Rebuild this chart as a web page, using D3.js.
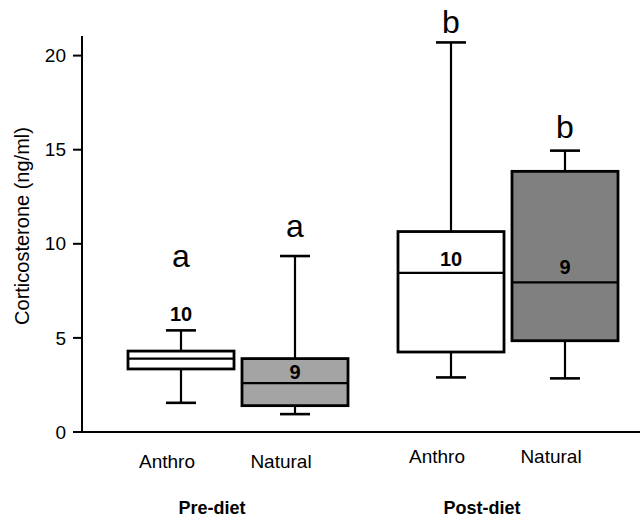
<!DOCTYPE html>
<html>
<head>
<meta charset="utf-8">
<script src="https://cdn.jsdelivr.net/npm/d3@7"></script>
<style>
  body { margin: 0; background: #fff; }
  text { font-family: "Liberation Sans", Arial, sans-serif; }
</style>
</head>
<body>
<div id="chart"></div>
<script>
const groups = ['Pre-diet', 'Post-diet']
const habitats = ['Anthro', 'Natural']
// one entry per box: Pre Anthro, Pre Natural, Post Anthro, Post Natural
const boxGroup = ['Pre-diet', 'Pre-diet', 'Post-diet', 'Post-diet']
const boxHabitat = ['Anthro', 'Natural', 'Anthro', 'Natural']
const whiskerLow = [1.55, 0.95, 2.9, 2.85]
const q1 = [3.35, 1.4, 4.25, 4.85]
const median = [3.9, 2.6, 8.45, 7.95]
const q3 = [4.3, 3.9, 10.65, 13.85]
const whiskerHigh = [5.4, 9.35, 20.7, 14.95]
const sampleSize = [10, 9, 10, 9]
const sampleSizeAt = [5.9, 2.82, 8.82, 8.4]
const letters = ['a', 'a', 'b', 'b']
const lettersAt = [8.77, 10.36, 21.2, 15.6]
const yTicks = [0, 5, 10, 15, 20]

const width = 640
const height = 519
const boxFill = ['#ffffff', '#a4a4a4', '#ffffff', '#808080']

const boxes = boxGroup.map((g, i) => ({
  group: g,
  habitat: boxHabitat[i],
  lo: whiskerLow[i],
  q1: q1[i],
  med: median[i],
  q3: q3[i],
  hi: whiskerHigh[i],
  n: sampleSize[i],
  nAt: sampleSizeAt[i],
  letter: letters[i],
  letterAt: lettersAt[i],
  fill: boxFill[i]
}))

const y = d3.scaleLinear()
  .domain([0, 20])
  .range([432, 55.6])

const xGroup = d3.scalePoint()
  .domain(groups)
  .range([238, 508])

const xInner = d3.scaleBand()
  .domain(habitats)
  .range([-114, 114])
  .paddingInner(0.07)
  .paddingOuter(0.035)

const cx = d => xGroup(d.group) + xInner(d.habitat) + xInner.bandwidth() / 2
const capHalf = 15

const svg = d3.select('#chart').append('svg')
  .attr('width', width)
  .attr('height', height)

// y axis
const axisX = 82
svg.append('line')
  .attr('x1', axisX).attr('x2', axisX)
  .attr('y1', 36).attr('y2', y(0))
  .attr('stroke', '#000').attr('stroke-width', 2)

svg.append('line')
  .attr('x1', 74).attr('x2', width)
  .attr('y1', y(0)).attr('y2', y(0))
  .attr('stroke', '#000').attr('stroke-width', 2.2)

const tick = svg.append('g').selectAll('g')
  .data(yTicks)
  .join('g')
  .attr('transform', d => `translate(0,${y(d)})`)

tick.append('line')
  .attr('x1', 73).attr('x2', axisX)
  .attr('stroke', '#000').attr('stroke-width', 2)

tick.append('text')
  .attr('x', 66)
  .attr('dy', '0.35em')
  .attr('text-anchor', 'end')
  .attr('font-size', 19)
  .text(d => d)

svg.append('text')
  .attr('transform', 'translate(22,226) rotate(-90)')
  .attr('text-anchor', 'middle')
  .attr('dy', '0.35em')
  .attr('font-size', 20)
  .text('Corticosterone (ng/ml)')

// boxes
const bw = xInner.bandwidth()
const box = svg.append('g').selectAll('g')
  .data(boxes)
  .join('g')

box.append('line')
  .attr('x1', cx).attr('x2', cx)
  .attr('y1', d => y(d.hi)).attr('y2', d => y(d.lo))
  .attr('stroke', '#000').attr('stroke-width', 2.2)

box.append('line')
  .attr('x1', d => cx(d) - capHalf).attr('x2', d => cx(d) + capHalf)
  .attr('y1', d => y(d.hi)).attr('y2', d => y(d.hi))
  .attr('stroke', '#000').attr('stroke-width', 2.6)

box.append('line')
  .attr('x1', d => cx(d) - capHalf).attr('x2', d => cx(d) + capHalf)
  .attr('y1', d => y(d.lo)).attr('y2', d => y(d.lo))
  .attr('stroke', '#000').attr('stroke-width', 2.6)

box.append('rect')
  .attr('x', d => cx(d) - bw / 2)
  .attr('width', bw)
  .attr('y', d => y(d.q3))
  .attr('height', d => y(d.q1) - y(d.q3))
  .attr('fill', d => d.fill)
  .attr('stroke', '#000').attr('stroke-width', 2.8)

box.append('line')
  .attr('x1', d => cx(d) - bw / 2).attr('x2', d => cx(d) + bw / 2)
  .attr('y1', d => y(d.med)).attr('y2', d => y(d.med))
  .attr('stroke', '#000').attr('stroke-width', 2.2)

box.append('text')
  .attr('x', cx)
  .attr('y', d => y(d.nAt))
  .attr('text-anchor', 'middle')
  .attr('font-size', 20)
  .attr('font-weight', 'bold')
  .text(d => d.n)

box.append('text')
  .attr('x', cx)
  .attr('y', d => y(d.letterAt))
  .attr('text-anchor', 'middle')
  .attr('font-size', 32)
  .text(d => d.letter)

// category labels
svg.append('g').selectAll('text')
  .data(boxes)
  .join('text')
  .attr('x', d => cx(d) - 14)
  .attr('y', d => d.group === 'Pre-diet' ? 468 : 463)
  .attr('text-anchor', 'middle')
  .attr('font-size', 19)
  .text(d => d.habitat)

svg.append('g').selectAll('text')
  .data(groups)
  .join('text')
  .attr('x', d => xGroup(d) - 26)
  .attr('y', 514)
  .attr('text-anchor', 'middle')
  .attr('font-size', 18)
  .attr('font-weight', 'bold')
  .text(d => d)
</script>
</body>
</html>
